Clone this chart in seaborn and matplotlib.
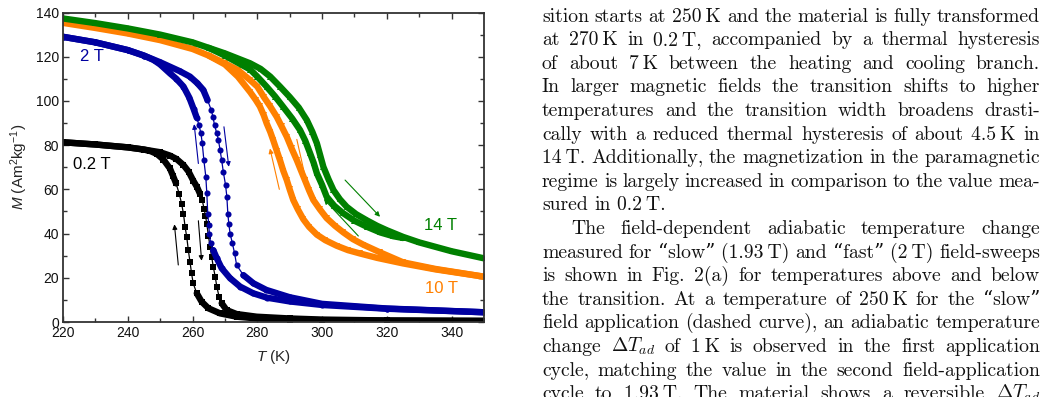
import matplotlib
matplotlib.use("Agg")
import pandas as pd
import seaborn as sns
import matplotlib.pyplot as plt

# ---- M(T) curves (T in K, M in Am^2/kg) ----
# 0.2 T
bk_heat_T = [220, 230, 240, 245, 250, 253, 255, 257.2, 258.8, 260.2, 261.4, 262.3, 263.0, 263.6, 264.0,
             264.4, 264.9, 265.4, 265.9, 266.4, 267.0, 267.5, 268.2, 269.0, 270.5, 273.6, 279.8, 290, 300, 320, 350]
bk_heat_M = [81.3, 80.3, 79, 78, 76.8, 75.3, 73.8, 71, 68, 64, 61, 58, 55, 51, 48,
             44.5, 39, 34, 29.5, 25, 20.5, 16, 11.4, 8.5, 5.4, 3.6, 2.4, 1.6, 1.1, 0.7, 0.5]
bk_cool_T = [220, 230, 240, 245, 247, 249, 251, 253, 254, 254.9, 255.9, 256.6, 257.2, 257.7, 258.2,
             258.7, 259.2, 259.7, 260.2, 261.3, 262.8, 264.9, 268.5, 273.6, 280, 290, 300, 320, 350]
bk_cool_M = [81.3, 80.3, 79, 78, 77.3, 76, 73.5, 69.5, 66, 62.7, 58, 53.6, 49, 43, 38.6,
             32.5, 27.3, 22, 17.5, 13, 9.2, 6.2, 3.9, 2.4, 1.6, 1.1, 0.8, 0.6, 0.5]
# 2 T
bl_heat_T = [220, 230, 240, 245, 250, 253, 256, 259.2, 261.5, 263.3, 264.6, 265.8, 266.3, 266.8, 267.5, 268.0,
             268.5, 269.0, 269.5, 270.2, 270.6, 270.9, 271.2, 271.6, 272.3, 273.0, 273.6, 275.7, 278.8, 282.8,
             290, 300, 320, 350]
bl_heat_M = [129, 126.5, 123, 120.5, 117.5, 115.5, 113.5, 111, 108, 105, 100.5, 95.8, 92.8, 89, 85.3, 82.3,
             77.8, 73.2, 67.9, 61.9, 56.6, 49, 44.5, 40, 35.6, 31, 25.8, 21.2, 17.5, 14.5,
             11.2, 8.2, 6.1, 4.4]
bl_cool_T = [220, 230, 240, 245, 248, 250, 253, 255, 257.2, 259.0, 260.3, 261.3, 262.0, 262.6, 263.0, 263.5,
             264.1, 264.4, 264.7, 265.0, 265.2, 265.6, 266.4, 267.5, 269.0, 271.6, 274.7, 278.7, 283, 290,
             300, 320, 350]
bl_cool_M = [129, 126.5, 123, 120.5, 118.5, 116.5, 112.5, 110, 106.5, 101.5, 96.5, 92.4, 89, 85.3, 80.8, 73.2,
             65.7, 58.5, 49, 44, 40, 35.6, 32.5, 28.8, 24.3, 19.8, 16, 13, 11, 9.3,
             7.7, 6, 4.4]
# 10 T
or_heat_T = [220, 230, 240, 250, 260, 265, 270, 274, 277.8, 280, 282, 284, 286, 287.5, 289.1, 290.6, 292.2,
             293.5, 294.7, 296, 297.3, 299.3, 301.4, 304, 306.6, 309.5, 312.7, 317.9, 325, 335, 350]
or_heat_M = [135.3, 133, 130.5, 127.5, 123.5, 120.5, 117, 114, 109.4, 106.5, 101.8, 97.5, 92.8, 88.5, 83.8, 78.5, 73.2,
             68.5, 64.2, 59.5, 55.2, 51, 47, 43.5, 40.5, 37.5, 35, 31.5, 27, 24, 20.5]
or_cool_T = [265, 270, 274, 277.8, 279.5, 280.8, 282, 282.9, 284, 284.9, 286, 287, 288, 289.1, 290, 291.1,
             292.5, 294.2, 296, 298.4, 301, 304.5, 308, 311.7, 317, 325, 335, 350]
or_cool_M = [120.5, 116.5, 111, 104, 100.5, 97.5, 93.5, 89.8, 86, 82.3, 77.5, 73.2, 68.5, 64.2, 60, 55.2,
             51, 46.5, 43, 39.5, 37, 34.5, 32.5, 31, 29, 26.5, 23.8, 20.5]
# 14 T
gr_heat_T = [220, 230, 240, 250, 260, 270, 277.8, 281, 284, 287, 290, 292.8, 295.3, 297, 298.4, 299.4, 300.4,
             302, 303.5, 305.5, 307.6, 310.5, 313.8, 317, 320, 325, 330, 340, 350]
gr_heat_M = [137.3, 135.2, 132.8, 130, 126.5, 121.5, 117, 114.5, 111, 106.5, 101.8, 97, 91.3, 86, 80.8, 75.5, 70.2,
             64.5, 59.7, 55.5, 52.1, 48.8, 46, 43.5, 41.5, 38.5, 36, 32, 28.8]
gr_cool_T = [265, 270, 277.8, 280, 282.9, 285.5, 288, 290.8, 293.2, 294.8, 296.3, 297.4, 298.4, 300, 301.4,
             303.8, 306.6, 310, 313.8, 318, 322, 325]
gr_cool_M = [124, 120.5, 114.2, 111, 106.4, 102, 97.3, 92, 86.8, 82, 76.3, 72, 67.2, 62, 56.7,
             52.5, 49.1, 45.8, 43.1, 40.5, 38.8, 38]

fields = ["0.2 T", "2 T", "10 T", "14 T"]
colors = {"0.2 T": "#000000", "2 T": "#0000A0", "10 T": "#FF8000", "14 T": "#008000"}
markers = {"0.2 T": "s", "2 T": "o", "10 T": "v", "14 T": "^"}

# paragraph text on the right of the figure
para_lines = [
    "sition starts at 250\u2009K and the material is fully transformed",
    "at 270\u2009K in 0.2\u2009T, accompanied by a thermal hysteresis",
    "of about 7\u2009K between the heating and cooling branch.",
    "In larger magnetic fields the transition shifts to higher",
    "temperatures and the transition width broadens drasti-",
    "cally with a reduced thermal hysteresis of about 4.5\u2009K in",
    "14\u2009T. Additionally, the magnetization in the paramagnetic",
    "regime is largely increased in comparison to the value mea-",
    "sured in 0.2\u2009T.",
    "The field-dependent adiabatic temperature change",
    "measured for \u201cslow\u201d (1.93\u2009T) and \u201cfast\u201d (2\u2009T) field-sweeps",
    "is shown in Fig. 2(a) for temperatures above and below",
    "the transition. At a temperature of 250\u2009K for the \u201cslow\u201d",
    "field application (dashed curve), an adiabatic temperature",
    "change $\\Delta{}T_{ad}$ of 1\u2009K is observed in the first application",
    "cycle, matching the value in the second field-application",
    "cycle to 1.93\u2009T. The material shows a reversible $\\Delta{}T_{ad}$",
]
ragged = {8}      # last line of a paragraph
indented = {9}

# build long table; where the measured points crowd together (flat parts of a
# curve) the symbols merge into a solid band, so mark those stretches
rows = []
for field, branch, T, M in [
    ("0.2 T", "a", bk_heat_T, bk_heat_M), ("0.2 T", "b", bk_cool_T, bk_cool_M),
    ("2 T", "c", bl_heat_T, bl_heat_M), ("2 T", "d", bl_cool_T, bl_cool_M),
    ("10 T", "e", or_heat_T, or_heat_M), ("10 T", "f", or_cool_T, or_cool_M),
    ("14 T", "g", gr_heat_T, gr_heat_M), ("14 T", "h", gr_cool_T, gr_cool_M),
]:
    assert len(T) == len(M), branch
    n = len(T)
    slopes = [abs(M[k + 1] - M[k]) / (T[k + 1] - T[k]) for k in range(n - 1)]
    seg, prev = 0, False
    for k in range(n):
        s = max(slopes[max(k - 1, 0)], slopes[min(k, n - 2)])
        dense = s < 6
        if dense and not prev:
            seg += 1
        prev = dense
        rows.append({"field": field, "branch": branch, "T": T[k], "M": M[k],
                     "dense": dense, "band": f"{branch}{seg}"})
df = pd.DataFrame(rows)

sns.set_style("ticks")
plt.rcParams["font.family"] = ["Liberation Sans", "DejaVu Sans"]
plt.rcParams["mathtext.fontset"] = "custom"
plt.rcParams["mathtext.rm"] = "Liberation Sans"
plt.rcParams["mathtext.it"] = "Liberation Sans:italic"

W, H = 1050, 397
fig = plt.figure(figsize=(W / 100, H / 100), dpi=100)
ax = fig.add_axes([63 / W, 1 - 322 / H, 421 / W, 309.5 / H])

for f in fields:
    sub = df[df["field"] == f]
    # solid band where symbols overlap
    sns.lineplot(data=sub[sub["dense"]], x="T", y="M", units="band", estimator=None, sort=False,
                 color=colors[f], lw=4.6, solid_capstyle="round", legend=False, ax=ax)
    # thin connecting line + symbols
    sns.lineplot(data=sub, x="T", y="M", units="branch", estimator=None, sort=False,
                 color=colors[f], lw=0.9, marker=markers[f], ms=4.4, mew=0, legend=False, ax=ax)

# arrows: (tail T, tail M, head T, head M)
arrows = [
    ("0.2 T", 255.6, 25.8, 254.4, 44.2), ("0.2 T", 261.8, 45.8, 262.8, 27.7),
    ("2 T", 261.8, 71.7, 260.5, 89.5), ("2 T", 269.7, 88.3, 271.2, 70.2),
    ("10 T", 286.8, 60, 283.9, 78.5), ("10 T", 292.2, 82.6, 295.2, 63),
    ("14 T", 307.1, 64.2, 317.9, 47.6), ("14 T", 311.2, 38.9, 300.6, 55.5),
]
for f, t0, m0, t1, m1 in arrows:
    ax.annotate("", xy=(t1, m1), xytext=(t0, m0),
                arrowprops=dict(arrowstyle="-|>", color=colors[f], lw=0.8,
                                mutation_scale=7, shrinkA=0, shrinkB=0))

for f, t, m in [("2 T", 225.2, 120), ("0.2 T", 223, 71.3), ("14 T", 331.5, 43.8), ("10 T", 331.8, 15.2)]:
    ax.text(t, m, f, color=colors[f], fontsize=12, va="center", ha="left")

ax.set_xlim(220, 350)
ax.set_ylim(0, 140)
ax.set_xticks(range(220, 351, 20))
ax.set_xticks(range(230, 350, 20), minor=True)
ax.set_yticks(range(0, 141, 20))
ax.set_yticks(range(10, 140, 20), minor=True)
ax.tick_params(which="both", direction="in", top=True, right=True, color="#333333", width=1)
ax.tick_params(which="major", length=4.5, labelsize=10, pad=3, labelcolor="#111111")
ax.tick_params(which="minor", length=3)
ax.set_xlabel("$T$ (K)", fontsize=11, labelpad=6)
ax.set_ylabel("$M$ (Am$^2$kg$^{-1}$)", fontsize=11, labelpad=4)
for s in ax.spines.values():
    s.set_linewidth(1.3)
    s.set_color("#333333")

# justified paragraph
renderer = fig.canvas.get_renderer()
x_left, x_right = 542, 1040
base0, pitch = 21.5, 23.6
for i, line in enumerate(para_lines):
    words = line.split(" ")
    y = 1 - (base0 + i * pitch) / H
    x0 = x_left + (29 if i in indented else 0)
    txts = [fig.text(0, y, w, fontsize=14.2, family=["cmr10", "DejaVu Serif"], math_fontfamily="cm",
                     va="baseline", ha="left", color="#111111") for w in words]
    widths = [t.get_window_extent(renderer).width for t in txts]
    if i in ragged or len(words) == 1:
        gap = 6.6
    else:
        gap = (x_right - x0 - sum(widths)) / (len(words) - 1)
    x = x0
    for t, w in zip(txts, widths):
        t.set_x(x / W)
        x += w + gap

fig.savefig("out.png", dpi=100)
